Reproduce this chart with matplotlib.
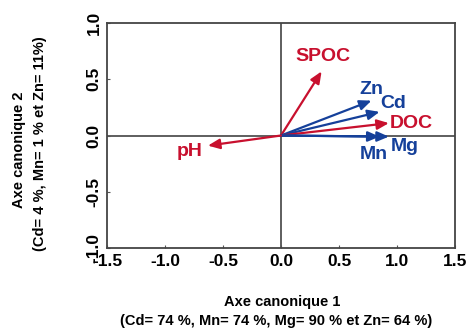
import matplotlib.pyplot as plt

plt.rcParams['font.family'] = ['Liberation Sans', 'DejaVu Sans']
plt.rcParams['font.weight'] = 'bold'

# vectors of the canonical analysis (axis 1, axis 2)
labels = ['SPOC', 'Zn', 'Cd', 'DOC', 'Mg', 'Mn', 'pH']
ax1 = [0.35, 0.78, 0.85, 0.93, 0.93, 0.85, -0.63]
ax2 = [0.57, 0.31, 0.21, 0.11, -0.01, -0.01, -0.09]
kind = ['env', 'metal', 'metal', 'env', 'metal', 'metal', 'env']
# where each label sits
lab_x = [0.36, 0.78, 0.97, 1.12, 1.07, 0.80, -0.79]
lab_y = [0.70, 0.41, 0.28, 0.11, -0.10, -0.17, -0.14]

red = '#c8102e'
blue = '#15409a'

fig = plt.figure(figsize=(4.71, 3.31), dpi=100)
ax = fig.add_axes([107/471, 1 - 248/331, 348/471, 225/331])

ax.axhline(0, color='#333333', lw=1.1, zorder=1)
ax.axvline(0, color='#333333', lw=1.1, zorder=1)

for i in range(len(labels)):
    c = red if kind[i] == 'env' else blue
    ax.annotate('', xy=(ax1[i], ax2[i]), xytext=(0, 0),
                arrowprops=dict(arrowstyle='-|>,head_length=0.7,head_width=0.3',
                                color=c, lw=1.6, shrinkA=0, shrinkB=0),
                zorder=3)
    ax.text(lab_x[i], lab_y[i], labels[i], color=c, fontsize=14,
            fontweight='bold', ha='center', va='center', zorder=4)

ax.set_xlim(-1.5, 1.5)
ax.set_ylim(-1.0, 1.0)
ax.set_xticks([-1.5, -1.0, -0.5, 0.0, 0.5, 1.0, 1.5])
ax.set_yticks([-1.0, -0.5, 0.0, 0.5, 1.0])
ax.set_xticklabels(['-1.5', '-1.0', '-0.5', '0.0', '0.5', '1.0', '1.5'])
ax.set_yticklabels(['-1.0', '-0.5', '0.0', '0.5', '1.0'], rotation=90, va='center')
ax.tick_params(direction='in', length=2, labelsize=12.5, pad=4, color='#555555')
for s in ax.spines.values():
    s.set_color('#444444')
    s.set_linewidth(1.3)

fig.text(282/471, 1 - 302/331, 'Axe canonique 1', fontsize=10.5,
         fontweight='bold', ha='center', va='center')
fig.text(276/471, 1 - 321/331, '(Cd= 74 %, Mn= 74 %, Mg= 90 % et Zn= 64 %)',
         fontsize=10.5, fontweight='bold', ha='center', va='center')
fig.text(19/471, 1 - 150/331, 'Axe canonique 2', fontsize=10.5,
         fontweight='bold', ha='center', va='center', rotation=90)
fig.text(40/471, 1 - 144/331, '(Cd= 4 %, Mn= 1 % et Zn= 11%)', fontsize=10.5,
         fontweight='bold', ha='center', va='center', rotation=90)

fig.savefig('out.png', dpi=100)
